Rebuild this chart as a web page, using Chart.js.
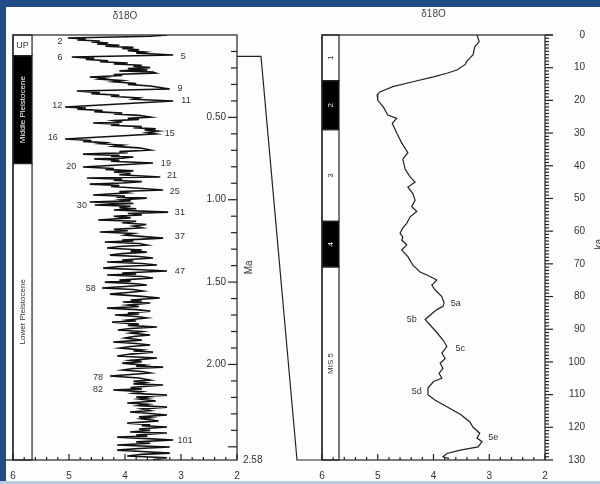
<!DOCTYPE html>
<html>
<head>
<meta charset="utf-8">
<script src="https://cdn.jsdelivr.net/npm/chart.js@4.4.0/dist/chart.umd.min.js"></script>
<style>
body{margin:0;background:#1f4b86;}
#wrap{position:relative;width:600px;height:484px;overflow:hidden;background:#1f4b86;}
#paper{position:absolute;left:6px;top:7px;width:594px;height:474px;background:#fdfdfd;}
#foot{position:absolute;left:0;top:481px;width:600px;height:3px;background:#b9cbe0;}
canvas{position:absolute;left:0;top:0;}
</style>
</head>
<body>
<div id="wrap">
<div id="paper"></div>
<div id="foot"></div>
<canvas id="left" width="600" height="484"></canvas>
<canvas id="right" width="600" height="484"></canvas>
</div>
<script>
// left panel: d18O stack vs age (Ma)
var leftMa = [0.000,0.008,0.018,0.024,0.030,0.036,0.042,0.049,0.055,0.062,0.068,0.075,0.082,0.090,0.096,0.103,0.110,0.121,0.134,0.142,0.148,0.156,0.162,0.170,0.176,0.184,0.190,0.198,0.204,0.212,0.218,0.225,0.231,0.240,0.246,0.255,0.262,0.268,0.277,0.284,0.294,0.300,0.310,0.328,0.340,0.350,0.356,0.366,0.372,0.382,0.390,0.401,0.437,0.444,0.450,0.458,0.465,0.474,0.480,0.488,0.498,0.506,0.512,0.520,0.528,0.534,0.542,0.548,0.556,0.562,0.570,0.577,0.584,0.592,0.600,0.610,0.631,0.640,0.646,0.654,0.660,0.668,0.676,0.685,0.698,0.708,0.714,0.723,0.731,0.736,0.741,0.748,0.752,0.760,0.766,0.777,0.801,0.810,0.816,0.825,0.832,0.840,0.848,0.862,0.868,0.876,0.882,0.890,0.898,0.905,0.914,0.920,0.930,0.941,0.950,0.958,0.971,0.978,0.984,0.990,1.000,1.007,1.014,1.022,1.032,1.040,1.048,1.055,1.062,1.075,
  1.084,1.092,1.100,1.110,1.123,1.131,1.140,1.150,1.160,1.170,1.180,1.188,1.196,1.205,1.215,1.233,1.245,1.250,1.257,1.266,1.275,1.284,1.293,1.305,1.312,1.318,1.327,1.336,1.345,1.354,1.366,1.372,1.378,1.387,1.396,1.405,1.415,1.425,1.433,1.445,1.450,1.457,1.466,1.475,1.488,1.494,1.500,1.510,1.518,1.527,1.536,1.545,1.554,1.563,1.573,1.585,1.597,1.609,1.615,1.621,1.627,1.640,1.648,1.658,1.667,1.676,1.688,1.694,1.700,1.709,1.718,1.730,1.736,1.743,1.755,1.763,1.773,1.782,1.791,1.800,1.810,1.821,1.830,1.840,1.852,1.864,1.873,1.882,1.891,1.900,1.912,1.918,1.925,1.937,1.949,1.955,1.961,1.975,1.983,1.992,2.004,2.010,2.016,2.025,2.034,2.043,2.052,2.061,2.070,2.082,2.095,2.102,2.110,2.118,2.125,2.140,2.148,2.155,2.165,2.175,2.186,2.198,2.204,2.210,2.222,2.234,2.242,2.250,2.259,2.270,2.280,2.289,2.298,2.307,2.318,2.324,2.330,2.343,2.356,2.366,2.372,2.380,2.392,2.400,2.410,2.416,2.428,2.435,2.441,2.450,2.459,2.470,2.478,2.489,2.495,2.501,2.510,2.520,2.528,2.538,2.546,2.556,2.566,2.578];
var leftIso = [3.25,3.55,5.02,4.70,4.85,4.45,4.60,4.30,4.50,4.10,4.35,3.85,4.05,3.75,3.95,3.65,3.80,3.14,4.95,4.55,4.70,4.30,4.45,3.95,4.20,3.70,3.85,3.55,3.95,3.60,4.10,3.50,3.45,4.20,4.05,4.63,4.35,4.45,4.05,4.20,3.80,3.95,3.55,3.20,4.86,4.45,4.60,4.10,4.25,3.75,3.85,3.14,5.07,4.70,4.85,4.40,4.55,4.05,4.20,3.75,3.55,3.95,3.75,4.20,4.05,4.57,4.10,4.25,3.70,3.85,3.45,3.65,3.41,3.60,3.45,3.95,5.07,4.60,4.75,4.35,4.45,4.05,4.20,3.75,3.55,4.10,3.95,4.75,4.10,4.25,3.85,4.05,4.55,4.10,4.25,3.50,4.75,4.20,4.35,3.85,4.20,3.90,4.10,3.37,4.68,4.05,4.20,3.70,4.05,4.63,4.10,4.25,3.75,3.32,4.10,3.95,4.57,4.00,4.15,3.61,4.05,3.90,4.63,3.85,4.54,3.90,4.10,3.80,4.20,3.23,
  3.95,3.70,4.20,3.90,4.48,3.80,4.05,3.62,3.85,3.70,4.20,3.95,4.45,3.85,4.00,3.32,4.05,3.85,4.36,3.75,3.61,4.10,4.32,3.70,3.90,3.61,4.05,4.27,3.75,3.50,4.05,3.85,4.32,3.70,3.43,4.10,4.39,3.70,3.25,4.05,3.80,4.32,3.70,3.50,4.10,3.90,4.36,3.80,3.61,4.00,4.41,3.85,3.68,3.95,4.27,3.75,3.38,3.90,3.70,4.04,3.55,3.95,3.75,4.32,3.80,3.55,3.95,3.75,4.18,3.80,3.61,3.95,3.80,4.23,3.75,3.95,3.43,3.90,4.13,3.70,3.90,3.55,3.85,4.00,3.70,4.21,3.80,3.55,3.90,4.09,3.70,3.85,3.50,3.90,4.14,3.80,3.43,3.90,3.70,4.05,3.65,3.80,3.32,3.85,4.04,3.70,3.55,3.90,4.27,3.75,3.55,3.85,3.65,3.85,3.32,3.90,3.70,4.21,3.70,3.85,3.25,3.80,3.60,3.75,3.45,3.96,3.60,3.75,3.25,3.70,3.55,3.91,3.55,3.25,3.75,3.55,3.70,3.40,3.96,3.55,3.70,3.25,3.75,3.55,3.91,3.25,3.80,3.60,4.14,3.60,3.14,3.80,3.55,4.14,3.70,3.20,3.75,4.14,3.70,3.20,3.70,3.96,3.25,3.50];

// right panel: d18O vs age (ka)
var rightKa = [0,2,3.6,6,8,9,10.7,11.7,12.8,14.3,15.8,17.4,18.3,20,22,24.5,25.5,27,30,33,36,38,41,43.4,45,46.5,48.5,50.5,52.5,54,55.6,57.6,59,60.6,61.8,62.7,64.2,65.8,67.8,70.4,72.5,73.4,74.4,75,76.5,78,80,82,83,84,87,88.7,91,93.3,95.3,97.3,99,100.4,102,103.5,105,106,108,110,111.7,113.7,116,118.3,120,121.8,123.3,124.4,126,127,128,129,129.6];
var rightIso = [3.22,3.18,3.26,3.29,3.40,3.43,3.58,3.76,4.00,4.37,4.73,4.96,5.01,5.00,4.90,4.82,4.66,4.74,4.66,4.57,4.46,4.55,4.51,4.42,4.33,4.46,4.37,4.33,4.39,4.30,4.42,4.48,4.55,4.60,4.55,4.57,4.48,4.57,4.46,4.37,4.24,4.12,4.00,3.94,4.03,3.97,3.85,3.81,3.83,3.94,4.15,4.06,3.94,3.83,3.76,3.85,3.79,3.88,3.83,3.90,3.85,4.00,4.10,4.10,3.97,3.76,3.52,3.35,3.29,3.17,3.22,3.13,3.20,3.52,3.76,3.83,3.72];

// stage labels
var misLeft = ['2','5','6','9','11','12','15','16','19','20','21','25','30','31','37','47','58','78','82','101'];
var misLeftMa = [0.042,0.128,0.134,0.322,0.395,0.431,0.601,0.625,0.783,0.801,0.856,0.953,1.038,1.075,1.226,1.433,1.536,2.077,2.155,2.459];
var misLeftIso = [5.16,2.96,5.16,3.02,2.91,5.21,3.20,5.29,3.27,4.96,3.16,3.11,4.77,3.02,3.02,3.02,4.61,4.48,4.48,2.93];
var subStages = ['5a','5b','5c','5d','5e'];
var subKa = [82,87,96,109,123];
var subIso = [3.60,4.39,3.52,4.30,2.93];

var epochNames = ['UP','Middle Pleistocene','Lower Pleistocene'];
var epochEdges = [0,0.126,0.781,2.58];
var misNames = ['1','2','3','4','MIS 5'];
var misEdges = [0,14,29,57,71,130];
var maTicks = [0.5,1.0,1.5,2.0];

var FONT = "'Liberation Sans', Arial, sans-serif";
var INK = '#222';

function xTicks(c, x, a) {
  for (var i = 0; i <= 20; i++) {
    var v = 2 + i * 0.2, px = x.getPixelForValue(v);
    var len = (i % 5 === 0) ? 6 : 3;
    c.beginPath(); c.moveTo(px, a.bottom); c.lineTo(px, a.bottom - len); c.stroke();
  }
}

function vText(c, txt, px, py, color, size) {
  c.save();
  c.translate(px, py); c.rotate(-Math.PI / 2);
  c.fillStyle = color; c.font = size + 'px ' + FONT;
  c.textAlign = 'center'; c.textBaseline = 'middle';
  c.fillText(txt, 0, 0);
  c.restore();
}

var leftDeco = {
  id: 'leftDeco',
  afterDatasetsDraw: function (chart) {
    var c = chart.ctx, a = chart.chartArea, x = chart.scales.x, y = chart.scales.y;
    c.save();
    c.strokeStyle = INK; c.lineWidth = 1.2;
    // epoch strip
    var s0 = x.getPixelForValue(6), s1 = x.getPixelForValue(5.66);
    for (var i = 0; i < epochNames.length; i++) {
      var t = y.getPixelForValue(epochEdges[i]), b = y.getPixelForValue(epochEdges[i + 1]);
      c.fillStyle = i === 1 ? '#000' : '#fff';
      c.fillRect(s0, t, s1 - s0, b - t);
      c.strokeRect(s0, t, s1 - s0, b - t);
      if (i === 0) {
        c.fillStyle = '#333'; c.font = '9px ' + FONT; c.textAlign = 'center'; c.textBaseline = 'middle';
        c.fillText(epochNames[i], (s0 + s1) / 2, (t + b) / 2);
      } else {
        vText(c, epochNames[i], (s0 + s1) / 2, (t + b) / 2, i === 1 ? '#fff' : '#333', 8);
      }
    }
    // frame
    c.strokeRect(a.left, a.top, a.right - a.left, a.bottom - a.top);
    c.beginPath(); c.moveTo(6, a.bottom); c.lineTo(a.left, a.bottom); c.stroke();
    xTicks(c, x, a);
    // inward Ma ticks
    for (var k = 1; k <= 25; k++) {
      var py = y.getPixelForValue(k / 10), len = (k % 5 === 0) ? 9 : 6;
      c.beginPath(); c.moveTo(a.right, py); c.lineTo(a.right - len, py); c.stroke();
    }
    // link to the right panel (0.13 Ma = 130 ka)
    var yl = y.getPixelForValue(0.13), yb = y.getPixelForValue(2.58);
    c.beginPath(); c.moveTo(a.right, yl); c.lineTo(a.right + 24, yl); c.lineTo(a.right + 60, yb); c.lineTo(a.right + 85, yb); c.stroke();
    // texts
    c.fillStyle = '#333'; c.font = '10px ' + FONT; c.textBaseline = 'middle';
    c.textAlign = 'left'; c.fillText('2.58', a.right + 6, yb);
    vText(c, 'Ma', a.right + 12, y.getPixelForValue(1.41), '#333', 10);
    c.textAlign = 'center'; c.fillStyle = '#444';
    c.fillText('\u03b418O', (a.left + a.right) / 2, 16);
    c.fillStyle = '#333'; c.font = '9px ' + FONT;
    for (var j = 0; j < misLeft.length; j++) {
      c.fillText(misLeft[j], x.getPixelForValue(misLeftIso[j]), y.getPixelForValue(misLeftMa[j]));
    }
    c.restore();
  }
};

var rightDeco = {
  id: 'rightDeco',
  afterDatasetsDraw: function (chart) {
    var c = chart.ctx, a = chart.chartArea, x = chart.scales.x, y = chart.scales.y;
    c.save();
    c.strokeStyle = INK; c.lineWidth = 1.2;
    var s0 = x.getPixelForValue(6), s1 = x.getPixelForValue(5.695);
    for (var i = 0; i < misNames.length; i++) {
      var t = y.getPixelForValue(misEdges[i]), b = y.getPixelForValue(misEdges[i + 1]);
      var dark = (i === 1 || i === 3);
      c.fillStyle = dark ? '#000' : '#fff';
      c.fillRect(s0, t, s1 - s0, b - t);
      c.strokeRect(s0, t, s1 - s0, b - t);
      vText(c, misNames[i], (s0 + s1) / 2, (t + b) / 2, dark ? '#fff' : '#333', 8);
    }
    c.strokeRect(a.left, a.top, a.right - a.left, a.bottom - a.top);
    c.beginPath(); c.moveTo(a.right, a.top); c.lineTo(a.right + 8, a.top); c.stroke();
    xTicks(c, x, a);
    for (var k = 0; k <= 130; k++) {
      var py = y.getPixelForValue(k), len = (k % 10 === 0) ? 8 : 4;
      c.beginPath(); c.moveTo(a.right, py); c.lineTo(a.right + len, py); c.stroke();
    }
    c.fillStyle = '#333'; c.font = '9px ' + FONT; c.textAlign = 'center'; c.textBaseline = 'middle';
    for (var j = 0; j < subStages.length; j++) {
      c.fillText(subStages[j], x.getPixelForValue(subIso[j]), y.getPixelForValue(subKa[j]));
    }
    c.font = '10px ' + FONT; c.fillStyle = '#444';
    c.fillText('\u03b418O', (a.left + a.right) / 2, 14);
    vText(c, 'ka', 599, y.getPixelForValue(64), '#333', 10);
    c.restore();
  }
};

function axisFont() { return { size: 10, family: FONT }; }

new Chart(document.getElementById('left'), {
  type: 'scatter',
  data: {
    datasets: [{
      data: leftMa.map(function (m, i) { return { x: leftIso[i], y: m }; }),
      showLine: true, borderColor: '#111', borderWidth: 1.6, pointRadius: 0, tension: 0
    }]
  },
  options: {
    responsive: false, animation: false, devicePixelRatio: 1,
    layout: { padding: { left: 13, top: 35, right: 353, bottom: 4 } },
    plugins: { legend: { display: false }, tooltip: { enabled: false } },
    scales: {
      x: {
        type: 'linear', min: 2, max: 6, reverse: true,
        grid: { display: false, drawTicks: false }, border: { display: false },
        ticks: { stepSize: 1, padding: 10, color: '#333', font: axisFont() },
        afterFit: function (s) { s.height = 20; }
      },
      y: {
        type: 'linear', position: 'right', min: 0, max: 2.58, reverse: true,
        grid: { display: false, drawTicks: false }, border: { display: false },
        afterBuildTicks: function (s) { s.ticks = maTicks.map(function (v) { return { value: v }; }); },
        ticks: { mirror: true, padding: -11, color: '#333', font: axisFont(),
          callback: function (v) { return Number(v).toFixed(2); } },
        afterFit: function (s) { s.width = 10; s.paddingTop = 6; s.paddingBottom = 6; }
      }
    }
  },
  plugins: [leftDeco]
});

new Chart(document.getElementById('right'), {
  type: 'scatter',
  data: {
    datasets: [{
      data: rightKa.map(function (k, i) { return { x: rightIso[i], y: k }; }),
      showLine: true, borderColor: '#222', borderWidth: 1.2, pointRadius: 0, tension: 0
    }]
  },
  options: {
    responsive: false, animation: false, devicePixelRatio: 1,
    layout: { padding: { left: 322, top: 35, right: 15, bottom: 4 } },
    plugins: { legend: { display: false }, tooltip: { enabled: false } },
    scales: {
      x: {
        type: 'linear', min: 2, max: 6, reverse: true,
        grid: { display: false, drawTicks: false }, border: { display: false },
        ticks: { stepSize: 1, padding: 10, color: '#333', font: axisFont() },
        afterFit: function (s) { s.height = 20; }
      },
      y: {
        type: 'linear', position: 'right', min: 0, max: 130, reverse: true,
        grid: { display: false, drawTicks: false }, border: { display: false },
        ticks: { stepSize: 10, padding: 22, crossAlign: 'far', color: '#333', font: axisFont() },
        afterFit: function (s) { s.width = 40; s.paddingTop = 6; s.paddingBottom = 6; }
      }
    }
  },
  plugins: [rightDeco]
});
</script>
</body>
</html>
